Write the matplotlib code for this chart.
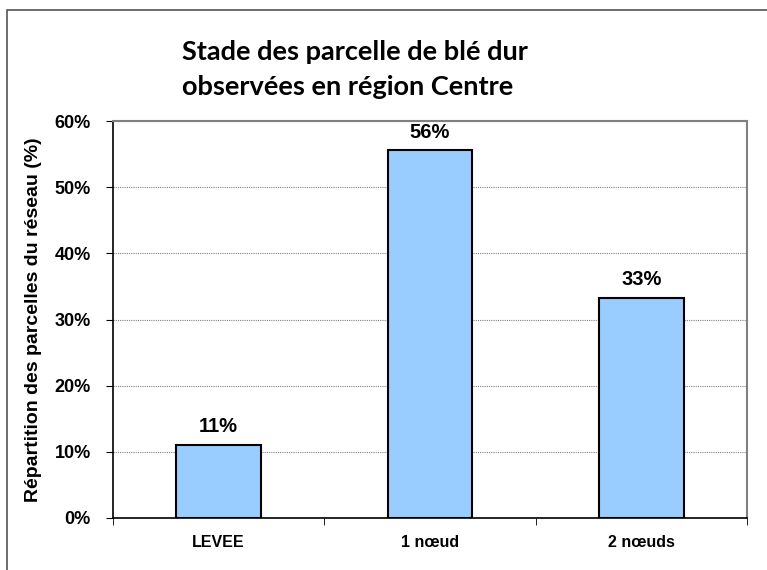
import numpy as np
import matplotlib.pyplot as plt
from matplotlib.patches import Rectangle
from matplotlib.ticker import FuncFormatter, FixedLocator

categories = ["LEVEE", "1 nœud", "2 nœuds"]
values = [11.1, 55.6, 33.3]
labels = ["11%", "56%", "33%"]
yticks = [0, 10, 20, 30, 40, 50, 60]

plt.rcParams['font.family'] = ['Liberation Sans', 'DejaVu Sans']

fig = plt.figure(figsize=(7.67, 5.70), dpi=100)
ax = fig.add_axes([113/767, 1-518/570, (747-113)/767, (518-121)/570])

# outer frame of the chart (bottom and right run off the picture)
fig.patches.append(Rectangle((7/767, -0.05), 1.0, 1.05-10/570, transform=fig.transFigure,
                             fill=False, edgecolor='#555555', linewidth=1.2))

x = np.arange(len(categories))
ax.bar(x, values, width=0.4, color='#99CCFF', edgecolor='black', linewidth=1.5, zorder=3)

for xi, v, lab in zip(x, values, labels):
    ax.text(xi, v + 1.9, lab, ha='center', va='baseline', fontsize=14.5, fontweight='bold')

ax.set_xlim(-0.5, 2.5)
ax.set_ylim(0, 60)
ax.set_yticks(yticks)
ax.yaxis.set_major_formatter(FuncFormatter(lambda v, p: f"{int(v)}%"))
ax.grid(axis='y', color='#808080', linestyle=(0, (1, 1)), linewidth=0.8, zorder=0)

ax.set_xticks(x)
ax.set_xticklabels(categories, fontsize=11.5, fontweight='bold')
ax.xaxis.set_minor_locator(FixedLocator([-0.5, 0.5, 1.5, 2.5]))
ax.tick_params(axis='x', which='major', length=0, pad=12)
ax.tick_params(axis='x', which='minor', length=5, direction='out', color='black')
ax.tick_params(axis='y', length=5, direction='out', labelsize=13, pad=11)
for t in ax.get_yticklabels():
    t.set_fontweight('bold')

ax.spines['top'].set_color('#808080')
ax.spines['right'].set_color('#808080')
ax.spines['top'].set_linewidth(1.5)
ax.spines['right'].set_linewidth(1.5)
ax.spines['left'].set_linewidth(1.2)
ax.spines['bottom'].set_linewidth(1.2)

ax.set_ylabel("Répartition des parcelles du réseau (%)", fontsize=14, fontweight='bold', labelpad=9)

fig.text(182/767, 1-60/570, "Stade des parcelle de blé dur", fontsize=19.5, fontweight='bold',
         family=['Lato', 'DejaVu Sans'], va='baseline', ha='left')
fig.text(182/767, 1-95/570, "observées en région Centre", fontsize=19.5, fontweight='bold',
         family=['Lato', 'DejaVu Sans'], va='baseline', ha='left')

fig.savefig("out.png", dpi=100)
